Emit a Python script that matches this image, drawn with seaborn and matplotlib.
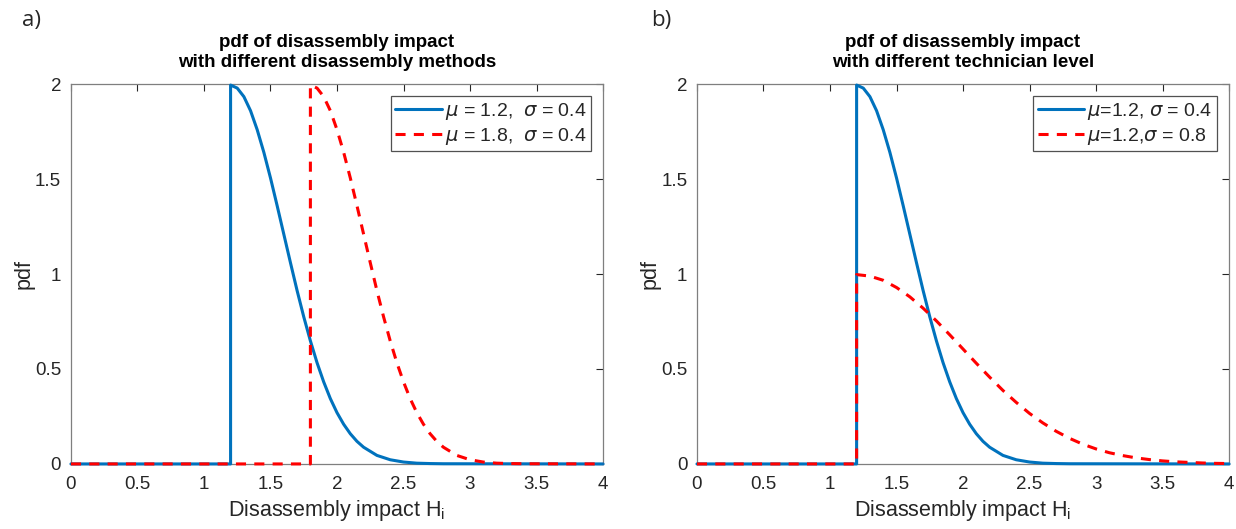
import matplotlib
matplotlib.use("Agg")
import matplotlib.pyplot as plt
import seaborn as sns
import pandas as pd

# curve values (pdf of disassembly impact)
h_a_blue = [0, 1.2, 1.2, 1.25, 1.3, 1.35, 1.4, 1.45, 1.5, 1.55, 1.6, 1.65, 1.7, 1.75,
            1.8, 1.85, 1.9, 1.95, 2.0, 2.05, 2.1, 2.15, 2.2, 2.3, 2.4, 2.5, 2.6, 2.7, 2.8, 4.0]
pdf_a_blue = [0, 0, 1.995, 1.979, 1.934, 1.860, 1.760, 1.641, 1.506, 1.360, 1.210, 1.060, 0.913, 0.775,
              0.648, 0.533, 0.432, 0.344, 0.270, 0.209, 0.159, 0.119, 0.088, 0.045, 0.022, 0.010, 0.004, 0.002, 0.001, 0.0]

h_a_red = [0, 1.8, 1.8, 1.85, 1.9, 1.95, 2.0, 2.05, 2.1, 2.15, 2.2, 2.25, 2.3, 2.35,
           2.4, 2.45, 2.5, 2.55, 2.6, 2.65, 2.7, 2.75, 2.8, 2.9, 3.0, 3.1, 3.2, 3.3, 3.4, 4.0]
pdf_a_red = [0, 0, 1.995, 1.979, 1.934, 1.860, 1.760, 1.641, 1.506, 1.360, 1.210, 1.060, 0.913, 0.775,
             0.648, 0.533, 0.432, 0.344, 0.270, 0.209, 0.159, 0.119, 0.088, 0.045, 0.022, 0.010, 0.004, 0.002, 0.001, 0.0]

h_b_red = [0, 1.2, 1.2, 1.3, 1.4, 1.5, 1.6, 1.7, 1.8, 1.9, 2.0, 2.1, 2.2, 2.3, 2.4, 2.5, 2.6,
           2.7, 2.8, 2.9, 3.0, 3.1, 3.2, 3.3, 3.4, 3.5, 3.6, 3.7, 3.8, 3.9, 4.0]
pdf_b_red = [0, 0, 0.997, 0.989, 0.967, 0.929, 0.880, 0.820, 0.753, 0.680, 0.605, 0.530, 0.457, 0.387,
             0.324, 0.266, 0.216, 0.172, 0.135, 0.104, 0.079, 0.059, 0.044, 0.032, 0.023, 0.016,
             0.011, 0.008, 0.005, 0.003, 0.002]

titles = ["pdf of disassembly impact\nwith different disassembly methods",
          "pdf of disassembly impact\nwith different technician level"]
legend_a = [r"$\mu$ = 1.2,  $\sigma$ = 0.4", r"$\mu$ = 1.8,  $\sigma$ = 0.4"]
legend_b = [r"$\mu$=1.2, $\sigma$ = 0.4", r"$\mu$=1.2,$\sigma$ = 0.8"]
panel_tags = ["a)", "b)"]
x_ticks = [0, 0.5, 1, 1.5, 2, 2.5, 3, 3.5, 4]
x_tick_labels = ["0", "0.5", "1", "1.5", "2", "2.5", "3", "3.5", "4"]
y_ticks = [0, 0.5, 1, 1.5, 2]
y_tick_labels = ["0", "0.5", "1", "1.5", "2"]

sns.set_style("white")
plt.rcParams["font.family"] = ["Liberation Sans", "DejaVu Sans"]
plt.rcParams["mathtext.fontset"] = "dejavusans"

BLUE = "#0072BD"
RED = "#FF0000"
AXCOL = "#262626"
DASH = (0, (3.3, 2.7))

fig = plt.figure(figsize=(12.36, 5.29), dpi=100)
ax_a = fig.add_axes([0.0574, 0.123, 0.4305, 0.718])
ax_b = fig.add_axes([0.5639, 0.123, 0.4305, 0.718])

curves = [
    (ax_a, h_a_blue, pdf_a_blue, legend_a[0], BLUE, "-"),
    (ax_a, h_a_red, pdf_a_red, legend_a[1], RED, DASH),
    (ax_b, h_a_blue, pdf_a_blue, legend_b[0], BLUE, "-"),
    (ax_b, h_b_red, pdf_b_red, legend_b[1], RED, DASH),
]
for ax, xs, ys, lab, col, ls in curves:
    df = pd.DataFrame({"H": xs, "pdf": ys})
    sns.lineplot(data=df, x="H", y="pdf", ax=ax, estimator=None, color=col,
                 linestyle=ls, linewidth=2.2, label=lab, clip_on=False, zorder=3)

for i, ax in enumerate([ax_a, ax_b]):
    ax.set_xlim(0, 4)
    ax.set_ylim(0, 2)
    ax.set_xticks(x_ticks)
    ax.set_xticklabels(x_tick_labels)
    ax.set_yticks(y_ticks)
    ax.set_yticklabels(y_tick_labels)
    ax.tick_params(direction="in", length=5, width=0.8, colors=AXCOL, labelsize=13.5,
                   top=True, right=True)
    ax.tick_params(axis="x", pad=9)
    ax.tick_params(axis="y", pad=7)
    for sp in ax.spines.values():
        sp.set_color("#7f7f7f")
        sp.set_linewidth(0.9)
    ax.set_xlabel(r"Disassembly impact H$_\mathregular{i}$", fontsize=15.5, color=AXCOL, labelpad=3)
    ax.set_ylabel("pdf", fontsize=15.5, color=AXCOL, labelpad=0)
    ax.set_title(titles[i], fontsize=13.5, fontweight="bold", color="black", pad=12, linespacing=1.25)
    leg = ax.legend(loc="upper right", fontsize=14, frameon=True, fancybox=False,
                    handlelength=2.4, handletextpad=0.15, borderpad=0.25, labelspacing=0.2,
                    borderaxespad=0.6)
    leg.get_frame().set_edgecolor(AXCOL)
    leg.get_frame().set_linewidth(0.9)
    leg.set_zorder(5)

fig.text(0.018, 0.95, panel_tags[0], fontsize=16, family=["Open Sans", "DejaVu Sans"])
fig.text(0.527, 0.95, panel_tags[1], fontsize=16, family=["Open Sans", "DejaVu Sans"])

fig.savefig("out.png", dpi=100)
